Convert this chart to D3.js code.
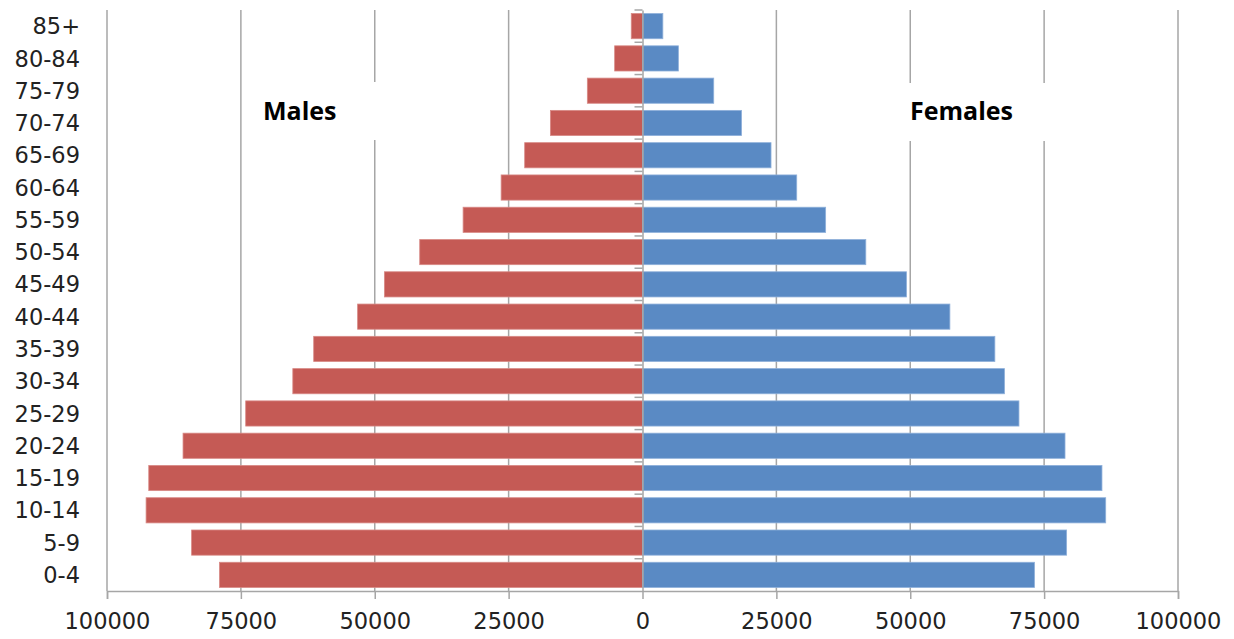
<!DOCTYPE html>
<html>
<head>
<meta charset="utf-8">
<script src="https://cdn.jsdelivr.net/npm/d3@7"></script>
<style>
  html, body { margin: 0; padding: 0; background: #fff; }
  svg { display: block; }
</style>
</head>
<body>
<svg id="chart" width="1234" height="639"></svg>
<script>
// Age groups, top to bottom
const ageGroups = ["85+", "80-84", "75-79", "70-74", "65-69", "60-64", "55-59", "50-54",
  "45-49", "40-44", "35-39", "30-34", "25-29", "20-24", "15-19", "10-14", "5-9", "0-4"];

// Population counts per age group
const males = [2100, 5200, 10300, 17200, 22000, 26400, 33500, 41600,
  48200, 53200, 61400, 65300, 74100, 85800, 92200, 92700, 84200, 79000];
const females = [3800, 6700, 13300, 18500, 24000, 28800, 34200, 41700,
  49300, 57400, 65800, 67600, 70300, 78900, 85800, 86500, 79200, 73200];

const xTicks = [-100000, -75000, -50000, -25000, 0, 25000, 50000, 75000, 100000];

const svg = d3.select("#chart");
const plotLeft = 107, plotRight = 1178, plotTop = 10, plotBottom = 591;

const x = d3.scaleLinear().domain([-100000, 100000]).range([plotLeft, plotRight]);
const y = d3.scaleBand().domain(ageGroups).range([plotTop, plotBottom]).paddingInner(0.22).paddingOuter(0.11);

const gridColor = "#a6a6a6";
const font = "'DejaVu Sans', Verdana, sans-serif";

// Vertical gridlines
svg.append("g")
  .selectAll("line")
  .data(xTicks.filter(d => d !== 0))
  .join("line")
  .attr("x1", d => x(d)).attr("x2", d => x(d))
  .attr("y1", plotTop).attr("y2", plotBottom)
  .attr("stroke", gridColor).attr("stroke-width", 1.5);

// Side labels on white boxes
const labels = [
  { text: "Males", x: 263, box: [255, 82, 150, 58] },
  { text: "Females", x: 910, box: [902, 83, 165, 58] }
];
svg.append("g").selectAll("rect")
  .data(labels).join("rect")
  .attr("x", d => d.box[0]).attr("y", d => d.box[1])
  .attr("width", d => d.box[2]).attr("height", d => d.box[3])
  .attr("fill", "#fff");
svg.append("g").selectAll("text")
  .data(labels).join("text")
  .attr("x", d => d.x).attr("y", 120)
  .attr("font-family", "'Open Sans', Calibri, sans-serif")
  .attr("font-weight", "bold")
  .attr("font-size", 25)
  .attr("fill", "#000")
  .text(d => d.text);

// Bars
const bars = svg.append("g");
bars.selectAll("rect.m")
  .data(ageGroups).join("rect").attr("class", "m")
  .attr("x", (d, i) => x(-males[i]))
  .attr("width", (d, i) => x(0) - x(-males[i]))
  .attr("y", d => y(d)).attr("height", y.bandwidth())
  .attr("fill", "#c55a55").attr("stroke", "#d88a86").attr("stroke-width", 0.8);
bars.selectAll("rect.f")
  .data(ageGroups).join("rect").attr("class", "f")
  .attr("x", x(0))
  .attr("width", (d, i) => x(females[i]) - x(0))
  .attr("y", d => y(d)).attr("height", y.bandwidth())
  .attr("fill", "#5a8ac4").attr("stroke", "#8fb0da").attr("stroke-width", 0.8);

// Bottom axis
const xAxis = d3.axisBottom(x).tickValues(xTicks).tickSize(8).tickPadding(14)
  .tickFormat(d => String(Math.abs(d)));
const gx = svg.append("g").attr("transform", `translate(0,${plotBottom})`).call(xAxis);
gx.select(".domain").attr("stroke", gridColor).attr("stroke-width", 1.5);
gx.selectAll(".tick line").attr("stroke", gridColor).attr("stroke-width", 1.5);
gx.selectAll(".tick text").attr("font-family", font).attr("font-size", 22.5).attr("fill", "#222");

// Centre axis with category ticks pointing left
const yAxis = d3.axisLeft(y).tickSize(0).tickFormat("");
const gy = svg.append("g").attr("transform", `translate(${x(0)},0)`).call(yAxis);
gy.select(".domain").attr("stroke", gridColor).attr("stroke-width", 1.5);
gy.selectAll(".tick").remove();
const step = y.step();
const boundaries = d3.range(ageGroups.length).map(i => plotTop + i * step);
gy.selectAll("line.b").data(boundaries).join("line").attr("class", "b")
  .attr("x1", -8).attr("x2", 0)
  .attr("y1", d => d).attr("y2", d => d)
  .attr("stroke", gridColor).attr("stroke-width", 1.5);

// Age group labels at left
svg.append("g").selectAll("text")
  .data(ageGroups).join("text")
  .attr("x", 80)
  .attr("y", d => y(d) + y.bandwidth() / 2)
  .attr("dy", "0.36em")
  .attr("text-anchor", "end")
  .attr("font-family", font).attr("font-size", 22.5).attr("fill", "#222")
  .text(d => d);
</script>
</body>
</html>
